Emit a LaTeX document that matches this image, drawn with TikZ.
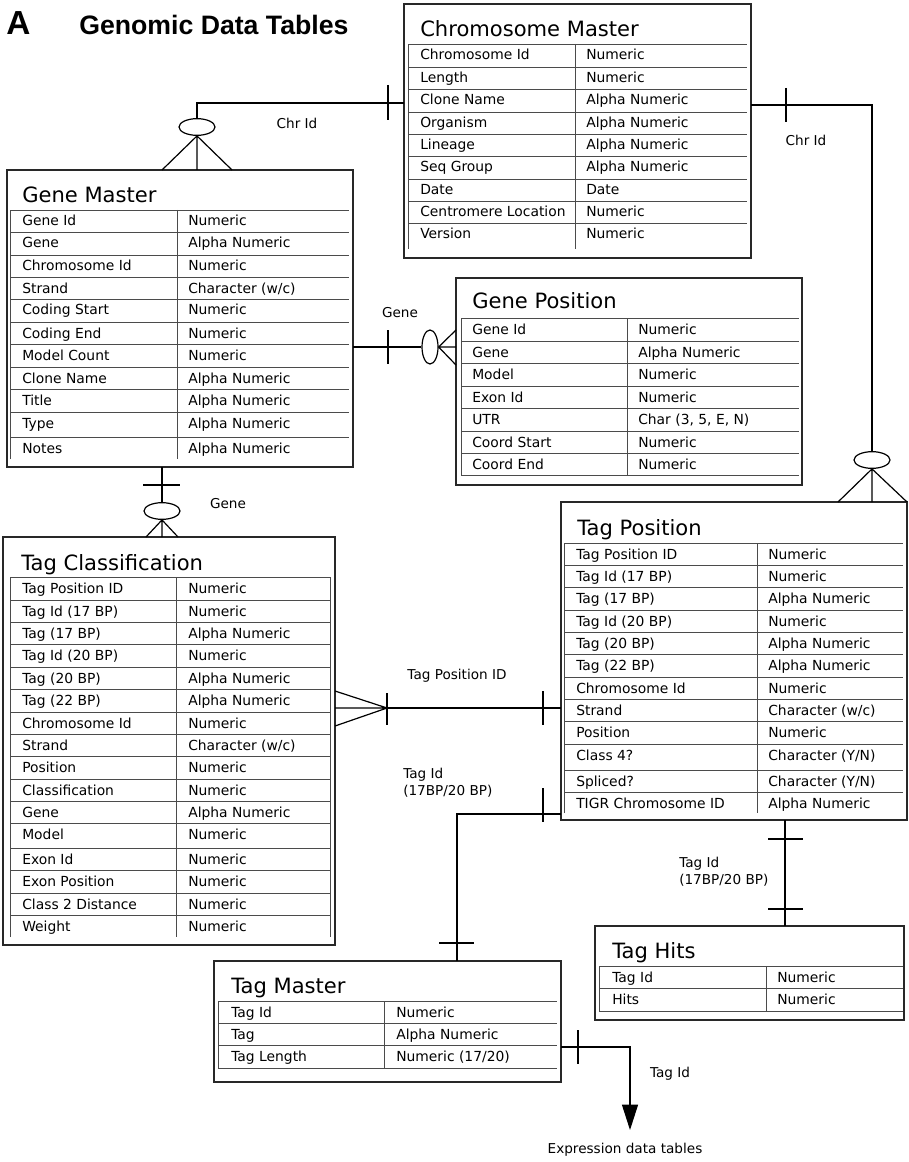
\documentclass[tikz,border=0pt]{standalone}
\usepackage{fontspec}
\setmainfont{DejaVu Sans}
\newfontfamily\headfont{Liberation Sans}
\usepackage{tikz}
\usetikzlibrary{positioning,shapes.geometric,arrows.meta,fit}
\definecolor{boxline}{RGB}{40,40,40}
\definecolor{gridline}{RGB}{75,75,75}
\tikzset{
  tablebox/.style={draw=boxline, line width=1.3pt, inner sep=0pt},
  tabletitle/.style={anchor=base west, inner sep=0pt, font=\fontsize{15.8}{18}\selectfont},
  celltxt/.style={anchor=base west, inner sep=0pt, font=\fontsize{10.4}{12}\selectfont},
  gridrule/.style={draw=gridline, line width=0.7pt},
  conn/.style={draw=black, line width=0.9pt},
  ring/.style={ellipse, draw=black, line width=0.9pt, inner sep=0pt,
               minimum width=27pt, minimum height=12.5pt},
  vring/.style={ring, minimum width=12pt, minimum height=25.5pt},
  linklabel/.style={font=\fontsize{10.2}{13}\selectfont, inner sep=0pt, align=left}
}

\begin{document}
\begin{tikzpicture}[x=0.75pt, y=-0.75pt]
  \useasboundingbox (0,0) rectangle (908,1162);

  \node[font=\headfont\bfseries\fontsize{25}{28}\selectfont, anchor=base west, inner sep=0pt]
       (panel) at (6,35) {A};
  \node[font=\headfont\bfseries\fontsize{20}{22}\selectfont, anchor=base west, inner sep=0pt]
       (heading) at (79,35) {Genomic Data Tables};

  % Chromosome Master
  \node[tablebox, fit={(404,4) (751,258)}] (chrmaster) {};
  \node[tabletitle] (chrmaster-title) at (420,37) {Chromosome Master};
  \draw[gridrule] (408,249) -- (408,44) (575,44) -- (575,249);
  \foreach \y/\f/\t [count=\i] in {44/Chromosome Id/Numeric, 67/Length/Numeric,
      89/Clone Name/Alpha Numeric, 112/Organism/Alpha Numeric, 134/Lineage/Alpha Numeric,
      156/Seq Group/Alpha Numeric, 179/Date/Date, 201/Centromere Location/Numeric,
      223/Version/Numeric} {
    \draw[gridrule] (408,\y) -- (747,\y);
    \node[celltxt] (chrmaster-f\i) at (420,\y+16) {\f};
    \node[celltxt] (chrmaster-t\i) at (586,\y+16) {\t};
  }

  % Gene Master
  \node[tablebox, fit={(7,170) (353,467)}] (genemaster) {};
  \node[tabletitle] (genemaster-title) at (22,203) {Gene Master};
  \draw[gridrule] (10,459) -- (10,210) (177,210) -- (177,459);
  \foreach \y/\f/\t [count=\i] in {210/Gene Id/Numeric, 232/Gene/Alpha Numeric,
      255/Chromosome Id/Numeric, 277/Strand/{Character (w/c)}, 299/Coding Start/Numeric,
      322/Coding End/Numeric, 344/Model Count/Numeric, 367/Clone Name/Alpha Numeric,
      389/Title/Alpha Numeric, 412/Type/Alpha Numeric, 437/Notes/Alpha Numeric} {
    \draw[gridrule] (10,\y) -- (349,\y);
    \node[celltxt] (genemaster-f\i) at (22,\y+16) {\f};
    \node[celltxt] (genemaster-t\i) at (188,\y+16) {\t};
  }

  % Gene Position
  \node[tablebox, fit={(456,278) (802,485)}] (genepos) {};
  \node[tabletitle] (genepos-title) at (472,309) {Gene Position};
  \draw[gridrule] (461,475) -- (461,318) (627,318) -- (627,475) (461,475) -- (799,475);
  \foreach \y/\f/\t [count=\i] in {318/Gene Id/Numeric, 341/Gene/Alpha Numeric,
      363/Model/Numeric, 386/Exon Id/Numeric, {408/UTR/Char (3, 5, E, N)},
      431/Coord Start/Numeric, 453/Coord End/Numeric} {
    \draw[gridrule] (461,\y) -- (799,\y);
    \node[celltxt] (genepos-f\i) at (472,\y+16) {\f};
    \node[celltxt] (genepos-t\i) at (638,\y+16) {\t};
  }

  % Tag Position
  \node[tablebox, fit={(561,502) (907,820)}] (tagpos) {};
  \node[tabletitle] (tagpos-title) at (577,535) {Tag Position};
  \draw[gridrule] (564,813) -- (564,543) (757,543) -- (757,813);
  \foreach \y/\f/\t [count=\i] in {543/Tag Position ID/Numeric, 565/Tag Id (17 BP)/Numeric,
      587/Tag (17 BP)/Alpha Numeric, 610/Tag Id (20 BP)/Numeric, 632/Tag (20 BP)/Alpha Numeric,
      654/Tag (22 BP)/Alpha Numeric, 677/Chromosome Id/Numeric, 699/Strand/{Character (w/c)},
      721/Position/Numeric, 744/Class 4?/{Character (Y/N)}, 770/Spliced?/{Character (Y/N)},
      792/TIGR Chromosome ID/Alpha Numeric} {
    \draw[gridrule] (564,\y) -- (903,\y);
    \node[celltxt] (tagpos-f\i) at (576,\y+16) {\f};
    \node[celltxt] (tagpos-t\i) at (768,\y+16) {\t};
  }

  % Tag Classification
  \node[tablebox, fit={(3,537) (335,945)}] (tagclass) {};
  \node[tabletitle] (tagclass-title) at (21,570) {Tag Classification};
  \draw[gridrule] (10,937) -- (10,577) (176,577) -- (176,937) (330,577) -- (330,937);
  \foreach \y/\f/\t [count=\i] in {577/Tag Position ID/Numeric, 600/Tag Id (17 BP)/Numeric,
      622/Tag (17 BP)/Alpha Numeric, 644/Tag Id (20 BP)/Numeric, 667/Tag (20 BP)/Alpha Numeric,
      689/Tag (22 BP)/Alpha Numeric, 712/Chromosome Id/Numeric, 734/Strand/{Character (w/c)},
      756/Position/Numeric, 779/Classification/Numeric, 801/Gene/Alpha Numeric,
      823/Model/Numeric, 848/Exon Id/Numeric, 870/Exon Position/Numeric,
      893/Class 2 Distance/Numeric, 915/Weight/Numeric} {
    \draw[gridrule] (10,\y) -- (330,\y);
    \node[celltxt] (tagclass-f\i) at (22,\y+16) {\f};
    \node[celltxt] (tagclass-t\i) at (188,\y+16) {\t};
  }

  % Tag Master
  \node[tablebox, fit={(214,961) (561,1082)}] (tagmaster) {};
  \node[tabletitle] (tagmaster-title) at (231,993) {Tag Master};
  \draw[gridrule] (218,1068) -- (218,1001) (384,1001) -- (384,1068) (218,1068) -- (557,1068);
  \foreach \y/\f/\t [count=\i] in {1001/Tag Id/Numeric, 1023/Tag/Alpha Numeric,
      1045/Tag Length/{Numeric (17/20)}} {
    \draw[gridrule] (218,\y) -- (557,\y);
    \node[celltxt] (tagmaster-f\i) at (231,\y+16) {\f};
    \node[celltxt] (tagmaster-t\i) at (396,\y+16) {\t};
  }

  % Tag Hits
  \node[tablebox, fit={(595,926) (904,1020)}] (taghits) {};
  \node[tabletitle] (taghits-title) at (612,958) {Tag Hits};
  \draw[gridrule] (599,1011) -- (599,966) (766,966) -- (766,1011) (599,1011) -- (903,1011);
  \foreach \y/\f/\t [count=\i] in {966/Tag Id/Numeric, 988/Hits/Numeric} {
    \draw[gridrule] (599,\y) -- (903,\y);
    \node[celltxt] (taghits-f\i) at (612,\y+16) {\f};
    \node[celltxt] (taghits-t\i) at (777,\y+16) {\t};
  }

  % rings and attachment points
  \node[ring] (chr-gene-ring) at (197,127) {};
  \node[ring] (chr-tag-ring) at (872,460) {};
  \node[vring] (gene-pos-ring) at (430,347) {};
  \node[ring] (gene-class-ring) at (162,511) {};
  \coordinate (chrmaster-w) at (404,103);
  \coordinate (chrmaster-e) at (751,105);
  \coordinate (genemaster-e) at (353,347);
  \coordinate (genemaster-s) at (162,467);
  \coordinate (tagclass-e) at (387,708);
  \coordinate (tagpos-w) at (561,708);
  \coordinate (tagpos-sw) at (561,814);
  \coordinate (tagmaster-n) at (457,961);
  \coordinate (tagpos-s) at (785,820);
  \coordinate (taghits-n) at (785,926);
  \coordinate (tagmaster-e) at (561,1047);
  \coordinate (expr-in) at (630,1130);

  % Chromosome -> Gene Master
  \draw[conn] (chrmaster-w) -| (chr-gene-ring.north);
  \draw[conn] (388,85) -- (388,120);
  \draw[conn] (162,170) -- (chr-gene-ring.south) -- (232,170)
              (chr-gene-ring.south) -- (197,170);
  \node[linklabel] (chr-gene-lbl) at (297,123) {Chr Id};

  % Chromosome -> Tag Position
  \draw[conn] (chrmaster-e) -| (chr-tag-ring.north);
  \draw[conn] (786,88) -- (786,122);
  \draw[conn] (838,502) -- (chr-tag-ring.south) -- (907,502)
              (chr-tag-ring.south) -- (872,502);
  \node[linklabel] (chr-tag-lbl) at (806,140) {Chr Id};

  % Gene Master -> Gene Position
  \draw[conn] (genemaster-e) -- (gene-pos-ring.west);
  \draw[conn] (388,330) -- (388,364);
  \draw[conn] (456,330) -- (gene-pos-ring.east) -- (456,365)
              (gene-pos-ring.east) -- (456,347);
  \node[linklabel] (gene-pos-lbl) at (400,313) {Gene};

  % Gene Master -> Tag Classification
  \draw[conn] (genemaster-s) -- (gene-class-ring.north);
  \draw[conn] (143,485) -- (180,485);
  \draw[conn] (146,537) -- (gene-class-ring.south) -- (178,537)
              (gene-class-ring.south) -- (162,537);
  \node[linklabel] (gene-class-lbl) at (228,504) {Gene};

  % Tag Classification -> Tag Position
  \draw[conn] (335,691) -- (tagclass-e) -- (335,726) (335,708) -- (tagclass-e);
  \draw[conn] (tagclass-e) -- (tagpos-w);
  \draw[conn] (387,693) -- (387,725) (543,691) -- (543,725);
  \node[linklabel] (class-pos-lbl) at (457,676) {Tag Position ID};

  % Tag Position -> Tag Master
  \draw[conn] (tagpos-sw) -| (tagmaster-n);
  \draw[conn] (543,788) -- (543,822) (439,943) -- (474,943);
  \node[linklabel, anchor=west] (pos-master-lbl) at (403,783) {Tag Id\\(17BP/20 BP)};

  % Tag Position -> Tag Hits
  \draw[conn] (tagpos-s) -- (taghits-n);
  \draw[conn] (768,839) -- (803,839) (768,909) -- (803,909);
  \node[linklabel, anchor=west] (pos-hits-lbl) at (679,872) {Tag Id\\(17BP/20 BP)};

  % Tag Master -> expression tables
  \draw[conn, -{Triangle[width=12pt, length=19pt]}] (tagmaster-e) -| (expr-in);
  \draw[conn] (578,1030) -- (578,1064);
  \node[linklabel] (master-expr-lbl) at (670,1074) {Tag Id};
  \node[linklabel] (expr) at (625,1150) {Expression data tables};
\end{tikzpicture}
\end{document}
